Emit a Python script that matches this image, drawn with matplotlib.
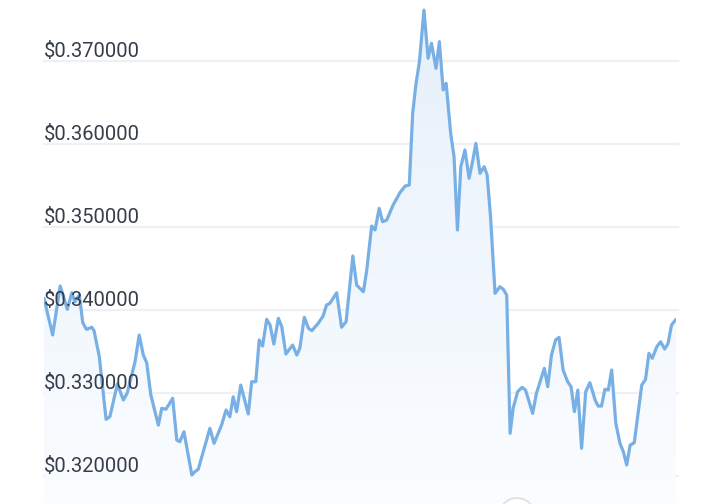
import matplotlib
matplotlib.use("Agg")
import matplotlib.pyplot as plt
import numpy as np
from matplotlib.patches import Circle
from matplotlib.colors import LinearSegmentedColormap

# time in hours (7-day window) and price in USD
hours = [0, 2.3, 4.3, 6.2, 7.4, 8.2, 9.4, 10.3, 11.3, 12.7, 13.3, 14.7, 16.5, 17.5,
         19.5, 21.1, 22.1, 24.2, 25.3, 26.4, 27.3, 28.4, 30.4, 31.3, 32.4, 34.2,
         35.3, 36.1, 37.2, 39.3, 40.1, 41.0, 44.1, 45.2, 47.2, 48.4, 49.4, 50.3,
         51.2, 52.3, 54.3, 55.2, 56.3, 57.2, 58.1, 59.2, 60.1, 61.1, 62.3, 63.2,
         64.3, 66.1, 67.2, 68.0, 69.2, 70.3, 71.2, 72.9, 74.2, 75.1, 76.0, 77.8,
         79.1, 80.3, 82.1, 83.1, 84.0, 84.9, 85.8, 87.1, 88.0, 89.1, 90.0, 91.1,
         92.8, 94.6, 96.0, 97.1, 98.0, 98.9, 99.8, 101.0, 102.1, 103.0, 104.2,
         105.1, 106.1, 106.9, 108.1, 109.0, 109.9, 110.8, 111.9, 113.0, 114.0,
         114.8, 115.9, 117.0, 117.8, 118.7, 119.9, 121.2, 122.1, 123.0, 123.9,
         124.7, 125.9, 127.1, 128.0, 129.9, 130.9, 133.0, 133.9, 134.9, 136.0,
         136.9, 138.0, 139.2, 140.1, 141.0, 141.9, 142.9, 144.0, 145.1, 146.5,
         147.3, 148.2, 149.1, 150.0, 150.9, 152.0, 153.1, 154.0, 154.9, 155.8,
         156.9, 158.9, 159.9, 160.8, 161.7, 162.9, 163.9, 165.0, 165.9, 166.8,
         168.0]
prices = [0.34141, 0.33699, 0.34289, 0.34008, 0.34208, 0.34100, 0.34181, 0.33847,
          0.33767, 0.33792, 0.33751, 0.33437, 0.32683, 0.32714, 0.33108, 0.32916,
          0.32996, 0.33377, 0.33699, 0.33458, 0.33365, 0.32976, 0.32614, 0.32816,
          0.32804, 0.32936, 0.32434, 0.32413, 0.32534, 0.32012, 0.32052, 0.32081,
          0.32575, 0.32394, 0.32614, 0.32795, 0.32714, 0.32955, 0.32775, 0.33096,
          0.32747, 0.33136, 0.33136, 0.33639, 0.33566, 0.33888, 0.33819, 0.33590,
          0.33900, 0.33799, 0.33470, 0.33578, 0.33458, 0.33539, 0.33912, 0.33780,
          0.33751, 0.33840, 0.33928, 0.34060, 0.34081, 0.34208, 0.33792, 0.33859,
          0.34651, 0.34301, 0.34261, 0.34220, 0.34482, 0.35012, 0.34964, 0.35225,
          0.35064, 0.35084, 0.35265, 0.35413, 0.35494, 0.35506, 0.36370, 0.36731,
          0.36992, 0.37614, 0.37033, 0.37213, 0.36912, 0.37233, 0.36651, 0.36731,
          0.36129, 0.35847, 0.34964, 0.35727, 0.35928, 0.35587, 0.35807, 0.36008,
          0.35647, 0.35727, 0.35627, 0.35124, 0.34201, 0.34281, 0.34249, 0.34181,
          0.32514, 0.32816, 0.33016, 0.33069, 0.33036, 0.32755, 0.32996, 0.33298,
          0.33076, 0.33458, 0.33639, 0.33671, 0.33277, 0.33136, 0.33076, 0.32775,
          0.33036, 0.32334, 0.33016, 0.33124, 0.32916, 0.32843, 0.32843, 0.33045,
          0.33036, 0.33277, 0.32635, 0.32394, 0.32293, 0.32133, 0.32373, 0.32401,
          0.33096, 0.33165, 0.33478, 0.33418, 0.33558, 0.33618, 0.33530, 0.33599,
          0.33819, 0.33888]
tick_values = [0.32, 0.33, 0.34, 0.35, 0.36, 0.37]
tick_labels = ["$0.320000", "$0.330000", "$0.340000", "$0.350000", "$0.360000", "$0.370000"]

LINE = "#78b0e6"
GRID = "#eef0f3"
TEXT = "#363d4a"

fig = plt.figure(figsize=(7.2, 5.04), dpi=100)
fig.patch.set_facecolor("white")
ax = fig.add_axes([44 / 720, 0, 632 / 720, 1])
ax.set_xlim(0, 168)
ymin, ymax = 0.31663, 0.37735
ax.set_ylim(ymin, ymax)
ax.axis("off")

for v in tick_values:
    ax.plot([0, 168.6], [v, v], color=GRID, lw=1.6, zorder=1, clip_on=False)

# gradient fill under line
x = np.array(hours)
y = np.array(prices)
poly = ax.fill_between(x, y, ymin, facecolor="none", edgecolor="none")
cmap = LinearSegmentedColormap.from_list("g", ["#fbfdff", "#e6f0fb"])
grad = np.linspace(0, 1, 256).reshape(-1, 1)
im = ax.imshow(grad, cmap=cmap, aspect="auto", origin="lower",
               extent=[0, 168, ymin, max(prices)], zorder=2)
path = poly.get_paths()[0]
im.set_clip_path(path, transform=ax.transData)

ax.plot(x, y, color=LINE, lw=2.3, zorder=4, solid_joinstyle="round",
        solid_capstyle="round")

for v, lab in zip(tick_values, tick_labels):
    ax.text(0, v + 0.00048, lab, ha="left", va="baseline", fontsize=14.5,
            family=["Roboto", "DejaVu Sans"], color=TEXT, zorder=5)

ax.set_ylim(ymin, ymax)

# scroll button circle at the bottom
circ = Circle((517, -12), 18, transform=None, facecolor="white",
              edgecolor="#dcdfe4", lw=1.2, zorder=10)
fig.patches.append(circ)

fig.savefig("out.png", dpi=100, facecolor="white")
